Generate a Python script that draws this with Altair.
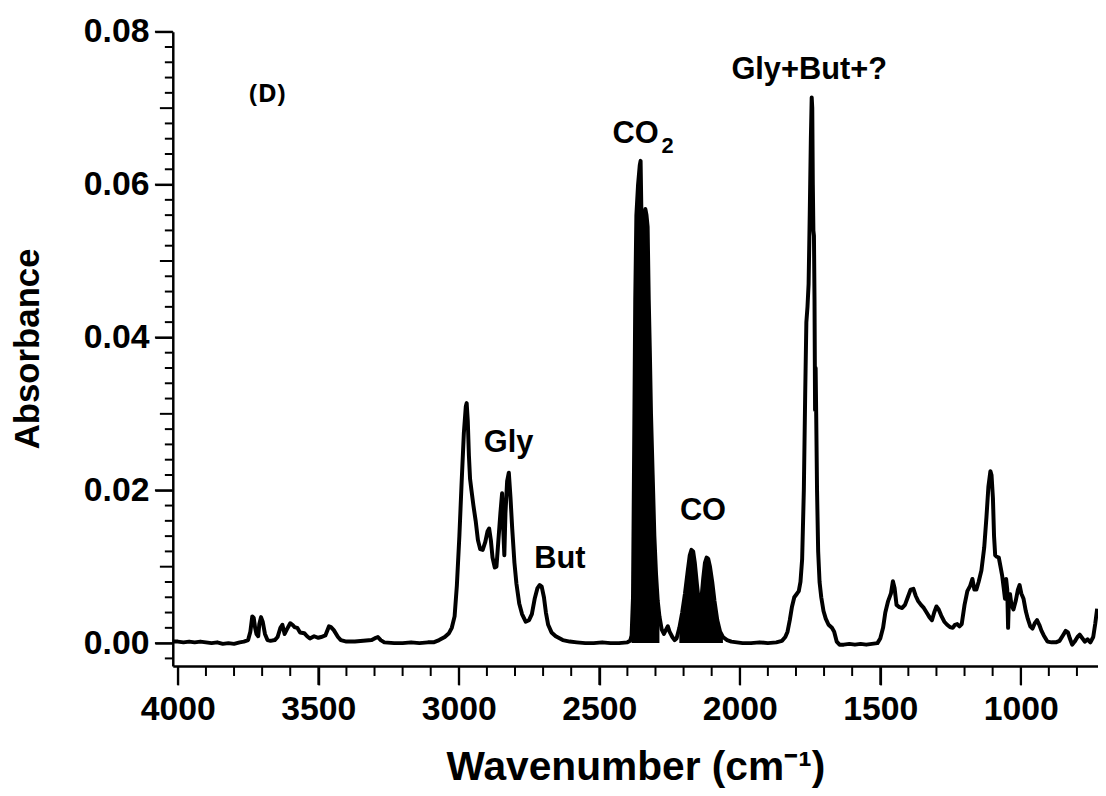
import altair as alt
import pandas as pd

# ---- spectrum ----
wavenumber = [
    4015, 4000, 3980, 3960, 3940, 3920, 3900, 3880, 3860, 3840, 3820, 3800, 3780, 3765,
    3750, 3742, 3735, 3730, 3725, 3720, 3714, 3710, 3704, 3698, 3690, 3681, 3670, 3655,
    3645, 3635, 3628, 3620, 3612, 3600, 3592, 3585, 3575, 3565, 3550, 3540, 3530, 3515,
    3500, 3490, 3475, 3462, 3455, 3445, 3430, 3420, 3400, 3370, 3340, 3310, 3295, 3288,
    3278, 3265, 3230, 3200, 3170, 3140, 3110, 3090, 3070, 3050, 3035, 3025, 3015, 3007,
    2998, 2990, 2982, 2975, 2972, 2968, 2964, 2960, 2955, 2948, 2940, 2932, 2924, 2915,
    2906, 2898, 2892, 2886, 2880, 2872, 2866, 2860, 2852, 2846, 2842, 2838, 2834, 2828,
    2822, 2816, 2810, 2802, 2795, 2785, 2775, 2762, 2750, 2740, 2730, 2720, 2712, 2705,
    2697, 2690, 2682, 2670, 2655, 2630, 2605, 2580, 2550, 2520, 2490, 2460, 2430, 2400,
    2390, 2385, 2380, 2376, 2372, 2368, 2362, 2356, 2353, 2350, 2348, 2346, 2340, 2336,
    2332, 2328, 2324, 2320, 2316, 2310, 2304, 2298, 2292, 2286, 2278, 2270, 2262, 2256,
    2250, 2240, 2232, 2225, 2215, 2205, 2195, 2185, 2178, 2172, 2166, 2160, 2152, 2146,
    2140, 2136, 2130, 2124, 2118, 2112, 2106, 2098, 2090, 2080, 2070, 2060, 2045, 2030,
    2010, 1990, 1960, 1930, 1900, 1870, 1850, 1838, 1830, 1822, 1814, 1806, 1798, 1790,
    1784, 1778, 1772, 1767, 1763, 1759, 1755, 1751, 1747, 1744, 1742, 1740, 1738, 1736,
    1734, 1732, 1730, 1728, 1725, 1721, 1716, 1710, 1702, 1694, 1684, 1672, 1664, 1655,
    1645, 1630, 1610, 1590, 1570, 1550, 1530, 1510, 1500, 1490, 1482, 1472, 1462, 1455,
    1449, 1442, 1432, 1422, 1412, 1402, 1392, 1382, 1374, 1365, 1355, 1345, 1335, 1325,
    1316, 1308, 1300, 1292, 1283, 1272, 1262, 1252, 1242, 1234, 1226, 1218, 1210, 1200,
    1190, 1180, 1172, 1165, 1158, 1150, 1140, 1130, 1122, 1115, 1108, 1104, 1099, 1095,
    1091, 1085, 1078, 1072, 1066, 1060, 1056, 1052, 1048, 1045, 1042, 1038, 1033, 1026,
    1018, 1010, 1004, 998, 990, 982, 975, 966, 958, 950, 942, 934, 926, 918,
    905, 890, 875, 862, 850, 840, 832, 825, 817, 808, 798, 790, 782, 772,
    762, 752, 742, 735, 728,
]
absorbance = [
    0.0002, 0.0002, 0.0001, 0.0002, 0.0001, 0.0002, 0.0001, 0.0000, 0.0001, -0.0001, 0.0000, -0.0001, 0.0001, 0.0002,
    0.0004, 0.0015, 0.0035, 0.0033, 0.0020, 0.0012, 0.0009, 0.0025, 0.0034, 0.0028, 0.0012, 0.0004, 0.0003, 0.0004,
    0.0008, 0.0020, 0.0024, 0.0012, 0.0018, 0.0026, 0.0024, 0.0021, 0.0020, 0.0014, 0.0013, 0.0009, 0.0006, 0.0009,
    0.0007, 0.0008, 0.0010, 0.0022, 0.0021, 0.0017, 0.0008, 0.0004, 0.0002, 0.0002, 0.0003, 0.0004, 0.0007, 0.0008,
    0.0004, 0.0001, 0.0000, 0.0000, 0.0001, 0.0000, 0.0001, 0.0001, 0.0004, 0.0008, 0.0013, 0.0020, 0.0035, 0.0075,
    0.0140, 0.0210, 0.0275, 0.0310, 0.0314, 0.0290, 0.0245, 0.0215, 0.0200, 0.0180, 0.0160, 0.0135, 0.0123, 0.0122,
    0.0132, 0.0146, 0.0150, 0.0135, 0.0112, 0.0099, 0.0100, 0.0130, 0.0170, 0.0196, 0.0150, 0.0115, 0.0170, 0.0212,
    0.0223, 0.0190, 0.0150, 0.0105, 0.0078, 0.0052, 0.0038, 0.0028, 0.0030, 0.0038, 0.0058, 0.0072, 0.0076, 0.0074,
    0.0060, 0.0040, 0.0024, 0.0014, 0.0009, 0.0004, 0.0002, 0.0001, 0.0000, 0.0000, 0.0001, 0.0000, 0.0000, 0.0001,
    0.0003, 0.0010, 0.0060, 0.0250, 0.0450, 0.0560, 0.0600, 0.0625, 0.0631, 0.0560, 0.0165, 0.0500, 0.0545, 0.0568,
    0.0560, 0.0545, 0.0450, 0.0380, 0.0300, 0.0220, 0.0140, 0.0090, 0.0055, 0.0035, 0.0018, 0.0012, 0.0018, 0.0022,
    0.0015, 0.0008, 0.0004, 0.0006, 0.0020, 0.0040, 0.0065, 0.0095, 0.0115, 0.0122, 0.0120, 0.0105, 0.0075, 0.0055,
    0.0045, 0.0060, 0.0085, 0.0105, 0.0112, 0.0110, 0.0100, 0.0080, 0.0055, 0.0030, 0.0015, 0.0008, 0.0004, 0.0002,
    0.0001, 0.0000, 0.0000, 0.0001, 0.0000, 0.0001, 0.0003, 0.0008, 0.0015, 0.0030, 0.0048, 0.0060, 0.0064, 0.0068,
    0.0080, 0.0110, 0.0200, 0.0330, 0.0420, 0.0440, 0.0470, 0.0560, 0.0660, 0.0714, 0.0700, 0.0600, 0.0540, 0.0533,
    0.0450, 0.0305, 0.0360, 0.0300, 0.0200, 0.0120, 0.0080, 0.0060, 0.0042, 0.0032, 0.0024, 0.0020, 0.0015, 0.0002,
    -0.0002, -0.0002, -0.0001, -0.0002, -0.0001, -0.0002, -0.0001, 0.0000, 0.0006, 0.0020, 0.0040, 0.0055, 0.0065, 0.0081,
    0.0072, 0.0050, 0.0047, 0.0046, 0.0050, 0.0060, 0.0070, 0.0071, 0.0062, 0.0055, 0.0050, 0.0046, 0.0040, 0.0034,
    0.0030, 0.0040, 0.0048, 0.0044, 0.0036, 0.0028, 0.0024, 0.0021, 0.0020, 0.0024, 0.0025, 0.0022, 0.0025, 0.0050,
    0.0068, 0.0075, 0.0084, 0.0070, 0.0070, 0.0080, 0.0095, 0.0125, 0.0165, 0.0205, 0.0225, 0.0220, 0.0190, 0.0140,
    0.0115, 0.0113, 0.0112, 0.0100, 0.0088, 0.0070, 0.0058, 0.0084, 0.0070, 0.0020, 0.0060, 0.0064, 0.0050, 0.0044,
    0.0055, 0.0070, 0.0076, 0.0065, 0.0058, 0.0042, 0.0032, 0.0022, 0.0019, 0.0026, 0.0030, 0.0024, 0.0016, 0.0010,
    0.0002, 0.0001, 0.0001, 0.0003, 0.0010, 0.0016, 0.0014, 0.0006, -0.0002, 0.0002, 0.0008, 0.0011, 0.0007, 0.0002,
    0.0005, 0.0001, 0.0008, 0.0025, 0.0045,
]

# ---- annotations ----
ann_text = ["Gly", "But", "CO", "CO", "Gly+But+?"]
ann_wn = [2823, 2640, 2371, 2131, 1753]
ann_abs = [0.0262, 0.0110, 0.0666, 0.0173, 0.0750]
sub_text = ["2"]
sub_wn = [2257]
sub_abs = [0.0651]
panel_text = ["(D)"]
panel_wn = [3682]
panel_abs = [0.0718]

# ---- axes: tick positions ----
x_major = [4000, 3500, 3000, 2500, 2000, 1500, 1000]
x_minor = [v for v in range(4000, 700, -100) if v % 500 != 0]
y_major = [0.0, 0.02, 0.04, 0.06, 0.08]
y_mid = [0.01, 0.03, 0.05, 0.07]
y_minor = [round(i * 0.002, 3) for i in range(-1, 41) if i % 5 != 0]

spec = pd.DataFrame({"wn": wavenumber, "abs": absorbance})
ann = pd.DataFrame({"wn": ann_wn, "abs": ann_abs, "t": ann_text})
sub = pd.DataFrame({"wn": sub_wn, "abs": sub_abs, "t": sub_text})
panel = pd.DataFrame({"wn": panel_wn, "abs": panel_abs, "t": panel_text})

FONT = "Liberation Sans"
W, H = 932, 639

x_scale = alt.Scale(domain=[725, 4018], reverse=True, nice=False, zero=False)
y_scale = alt.Scale(domain=[-0.003, 0.08], nice=False, zero=False)

x_axis = alt.Axis(
    orient="bottom",
    values=x_major,
    format="d",
    ticks=True,
    tickSize=19,
    tickWidth=2,
    tickColor="#000000",
    domainColor="#000000",
    domainWidth=2.5,
    labelFont=FONT,
    labelFontSize=34,
    labelFontWeight="bold",
    labelColor="#000000",
    labelPadding=8,
    labelOverlap=False,
    labelFlush=False,
    labelBound=False,
    grid=False,
    title="Wavenumber (cm⁻¹)",
    titleFont=FONT,
    titleFontSize=41,
    titleFontWeight="bold",
    titleColor="#000000",
    titleBaseline="middle",
    titleY=102,
)

y_axis = alt.Axis(
    orient="left",
    values=y_major,
    format=".2f",
    ticks=True,
    tickSize=18,
    tickWidth=2,
    tickColor="#000000",
    domainColor="#000000",
    domainWidth=2.5,
    labelFont=FONT,
    labelFontSize=34,
    labelFontWeight="bold",
    labelColor="#000000",
    labelPadding=6,
    labelOverlap=False,
    labelFlush=False,
    labelBound=False,
    grid=False,
    title="Absorbance",
    titleFont=FONT,
    titleFontSize=35,
    titleFontWeight="bold",
    titleColor="#000000",
    titleBaseline="middle",
    titleX=-146,
    titleY=319,
)

X = alt.X("wn:Q", scale=x_scale, axis=x_axis)
Y = alt.Y("abs:Q", scale=y_scale, axis=y_axis)

fill_co2 = alt.Chart(spec).transform_filter(
    (alt.datum.wn <= 2386) & (alt.datum.wn >= 2286)
).mark_area(color="black").encode(x=X, y=Y)

fill_co = alt.Chart(spec).transform_filter(
    (alt.datum.wn <= 2215) & (alt.datum.wn >= 2060)
).mark_area(color="black").encode(x=X, y=Y)

line = alt.Chart(spec).mark_line(
    color="black", strokeWidth=4, strokeJoin="round"
).encode(x=X, y=Y)


# tick marks placed through the same axis scales
def x_ticks(values, length):
    return alt.Chart(pd.DataFrame({"wn": values})).mark_rule(color="black", strokeWidth=2).encode(
        x=X, y=alt.value(H), y2=alt.value(H + length)
    )


def y_ticks(values, length):
    return alt.Chart(pd.DataFrame({"abs": values})).mark_rule(color="black", strokeWidth=2).encode(
        y=Y, x=alt.value(0), x2=alt.value(-length)
    )


tick_layers = [
    x_ticks(x_major, 19), x_ticks(x_minor, 10),
    y_ticks(y_major, 18), y_ticks(y_mid, 13), y_ticks(y_minor, 8),
]

labels = alt.Chart(ann).mark_text(
    font=FONT, fontSize=31, fontWeight="bold", color="black", align="center", baseline="middle"
).encode(x=X, y=Y, text="t:N")

sublabels = alt.Chart(sub).mark_text(
    font=FONT, fontSize=22, fontWeight="bold", color="black", align="center", baseline="middle"
).encode(x=X, y=Y, text="t:N")

panel_label = alt.Chart(panel).mark_text(
    font="Open Sans", fontSize=26, fontWeight="bold", color="black", align="center", baseline="middle"
).encode(x=X, y=Y, text="t:N")

chart = alt.layer(
    fill_co2, fill_co, line, labels, sublabels, panel_label, *tick_layers
).properties(
    width=W,
    height=H,
    autosize="none",
    padding={"left": 166, "top": 21, "right": 0, "bottom": 125},
    background="white",
).configure_view(stroke=None)

chart.save("out.html", embed_options={"renderer": "svg", "actions": False})
